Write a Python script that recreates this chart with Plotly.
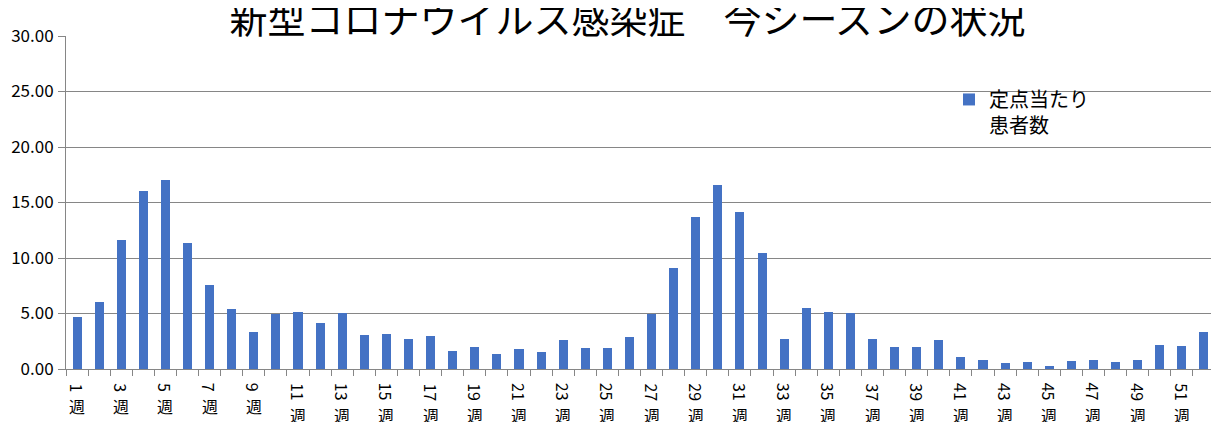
import plotly.graph_objects as go

# 週ごとの定点当たり患者数
weeks = list(range(1, 53))
patients = [4.70, 6.04, 11.62, 16.04, 17.03, 11.35, 7.57, 5.41, 3.33, 4.98,
            5.14, 4.14, 5.04, 3.06, 3.15, 2.70, 2.97, 1.62, 1.98, 1.35,
            1.80, 1.53, 2.61, 1.89, 1.89, 2.88, 4.98, 9.10, 13.69, 16.58,
            14.14, 10.45, 2.70, 5.50, 5.14, 5.04, 2.70, 1.98, 1.98, 2.61,
            1.08, 0.81, 0.54, 0.63, 0.27, 0.72, 0.81, 0.63, 0.81, 2.16,
            2.07, 3.33]
label_weeks = list(range(1, 53, 2))
label_digits = [str(w) for w in label_weeks]

font_jp = "Noto Sans CJK JP"
grid_col = "#868686"

fig = go.Figure()
fig.add_trace(go.Bar(
    x=weeks, y=patients,
    name="定点当たり<br>患者数",
    marker=dict(color="#4472C4", line=dict(width=0)),
    width=0.41,
))

# week labels: number turned sideways, "週" upright below it
for w, d in zip(label_weeks, label_digits):
    fig.add_annotation(
        x=w, y=0, xref="x", yref="paper",
        text=d, textangle=90, showarrow=False,
        xanchor="center", yanchor="top", yshift=-12,
        font=dict(family=font_jp, size=16, color="#000000"),
    )
    fig.add_annotation(
        x=w, y=0, xref="x", yref="paper",
        text="週", showarrow=False,
        xanchor="center", yanchor="top",
        yshift=-13 - 9.5 * len(d),
        font=dict(family=font_jp, size=16, color="#000000"),
    )

# the page body adds an 8px offset, so the figure is 8px smaller than the window
fig.update_layout(
    width=1211, height=414,
    margin=dict(l=58, r=4, t=28, b=53, autoexpand=False),
    paper_bgcolor="white", plot_bgcolor="white",
    font=dict(family=font_jp, color="#000000"),
    title=dict(
        text="新型コロナウイルス感染症　今シーズンの状況",
        x=0.5116, xanchor="center", xref="container",
        y=0.971, yanchor="middle", yref="container",
        font=dict(family=font_jp, size=38, color="#000000"),
    ),
    showlegend=True,
    legend=dict(
        x=0.7685, y=0.868, xanchor="left", yanchor="top",
        bgcolor="rgba(0,0,0,0)", font=dict(size=20, family=font_jp),
        itemwidth=30, valign="top",
    ),
    bargap=0,
)

fig.update_xaxes(
    range=[0.5, 52.5], automargin=False,
    showticklabels=False, ticks="",
    minor=dict(tickmode="linear", tick0=0.5, dtick=1, ticks="outside",
               ticklen=6, tickcolor=grid_col, showgrid=False),
    showline=True, linecolor=grid_col, linewidth=1,
    showgrid=False, zeroline=False,
)
fig.update_yaxes(
    range=[0, 30], dtick=5, tickformat=".2f", automargin=False,
    ticks="outside", ticklen=7, tickcolor=grid_col,
    tickfont=dict(size=17, family=font_jp, color="#000000"),
    ticklabelstandoff=1,
    showgrid=True, gridcolor=grid_col, gridwidth=1,
    showline=True, linecolor=grid_col, linewidth=1,
    zeroline=False,
)

fig.write_html("out.html")
